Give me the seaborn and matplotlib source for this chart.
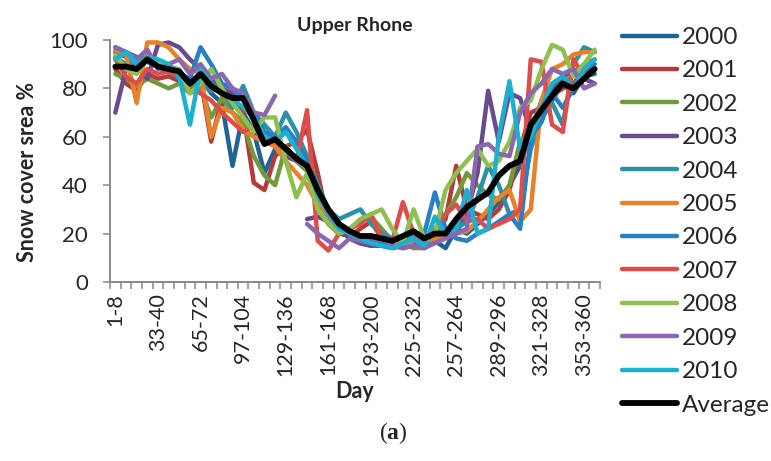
import numpy as np
import pandas as pd
import seaborn as sns
import matplotlib.pyplot as plt
from matplotlib.lines import Line2D
from matplotlib.ticker import FixedLocator

nan = np.nan

# 8-day periods (46 composites)
starts = list(range(1, 362, 8))
periods = [f"{s}-{min(s + 7, 365)}" for s in starts]

tick_positions = list(range(0, 46, 4))
tick_labels = [periods[i] for i in tick_positions]

y2000 = [95, 93, 92, 91, 89, 87, 85, 80, 84, 78, 74, 48, 70, 62, 45, 55, 52, 50, 46, 36, 28, 22, 18, 16, 15, 15, 14, 15, 16, 14, 17, 14, 22, 20, 24, 28, 33, 40, 48, 63, 70, 75, 82, 78, 85, 86]
y2001 = [88, 82, 79, 86, 84, 85, 83, 81, 84, 58, 76, 75, 70, 41, 38, 52, 56, 58, 63, 45, 24, 20, 19, 22, 25, 18, 16, 15, 18, 16, 20, 26, 48, 30, 28, 26, 30, 38, 55, 70, 72, 77, 80, 82, 87, 88]
y2002 = [86, 84, 81, 84, 82, 80, 82, 78, 80, 68, 76, 70, 66, 52, 44, 40, 56, 50, 46, 32, 24, 20, 22, 25, 27, 22, 17, 16, 14, 14, 20, 28, 35, 45, 40, 36, 34, 40, 58, 62, 75, 80, 84, 86, 90, 92]
y2003 = [70, 88, 90, 84, 98, 99, 97, 92, 88, 84, 80, 78, 76, nan, nan, nan, nan, nan, 26, 27, 25, 22, 18, 16, 15, 17, 18, 16, 15, 16, 18, 22, 22, 28, 45, 79, 58, 78, 76, 62, 70, 78, 85, 88, 84, 82]
y2004 = [93, 90, 92, 94, 90, 88, 84, 80, 82, 79, 80, 72, 81, 70, 65, 60, 70, 62, 52, 40, 30, 26, 28, 30, 24, 20, 18, 17, 19, 15, 18, 20, 22, 25, 35, 48, 40, 28, 30, 55, 68, 74, 65, 90, 97, 95]
y2005 = [96, 94, 74, 99, 99, 97, 92, 88, 86, 60, 72, 70, 63, 60, 58, 56, 50, 45, 40, 32, 26, 22, 20, 19, 18, 17, 16, 15, 16, 17, 18, 19, 20, 21, 25, 30, 35, 38, 25, 30, 75, 88, 90, 94, 95, 95]
y2006 = [97, 95, 93, 92, 90, 88, 86, 84, 97, 90, 82, 80, 75, 70, 62, 60, 64, 58, 50, 38, 28, 22, 20, 18, 17, 16, 15, 14, 15, 20, 37, 22, 18, 17, 20, 22, 25, 28, 22, 60, 66, 78, 72, 80, 88, 90]
y2007 = [92, 85, 82, 88, 86, 87, 85, 80, 78, 75, 70, 66, 62, 64, 60, 58, 54, 50, 71, 17, 13, 20, 22, 24, 28, 18, 17, 33, 20, 17, 22, 28, 32, 25, 26, 22, 24, 26, 30, 92, 91, 65, 62, 92, 85, 88]
y2008 = [94, 88, 86, 92, 90, 89, 88, 78, 82, 88, 80, 74, 68, 62, 68, 68, 50, 35, 45, 30, 24, 20, 22, 26, 28, 30, 22, 16, 30, 18, 20, 38, 45, 50, 55, 48, 50, 58, 72, 75, 88, 98, 96, 85, 90, 96]
y2009 = [97, 95, 92, 96, 88, 90, 92, 86, 90, 84, 86, 80, 78, 70, 69, 77, nan, nan, 24, 20, 17, 14, 18, 17, 16, 18, 15, 14, 15, 14, 16, 18, 20, 22, 56, 57, 53, 52, 70, 78, 82, 88, 86, 88, 80, 82]
y2010 = [92, 95, 90, 93, 92, 90, 85, 65, 88, 82, 78, 76, 72, 68, 60, 58, 62, 55, 48, 36, 28, 22, 20, 18, 16, 15, 14, 16, 18, 15, 27, 20, 22, 38, 20, 22, 60, 83, 55, 60, 72, 82, 85, 80, 88, 92]
average = [89, 89, 88, 92, 89, 88, 87, 82, 86, 81, 78, 76, 76, 67, 57, 59, 55, 51, 48, 38, 30, 24, 21, 19, 19, 18, 17, 19, 21, 18, 20, 20, 26, 31, 34, 37, 44, 48, 50, 65, 71, 77, 82, 80, 84, 88]

series_names = ["2000", "2001", "2002", "2003", "2004", "2005", "2006", "2007", "2008", "2009", "2010", "Average"]
series_values = [y2000, y2001, y2002, y2003, y2004, y2005, y2006, y2007, y2008, y2009, y2010, average]
colors = ["#1F6497", "#B43B3B", "#729A3C", "#6A4A8C", "#2A92A8", "#E8822A",
          "#2680C4", "#DF4D4B", "#8DC04E", "#8B67B0", "#1BB0D0", "#000000"]
palette = dict(zip(series_names, colors))

rows = []
for name, vals in zip(series_names, series_values):
    seg = 0
    prev_nan = False
    for i, v in enumerate(vals):
        if np.isnan(v):
            prev_nan = True
            continue
        if prev_nan:
            seg += 1
            prev_nan = False
        rows.append({"series": name, "idx": i, "value": v, "seg": f"{name}_{seg}"})
df = pd.DataFrame(rows)

sns.set_theme(style="white")
plt.rcParams["font.family"] = ["Lato", "DejaVu Sans"]
plt.rcParams["lines.solid_capstyle"] = "round"
plt.rcParams["lines.solid_joinstyle"] = "round"
plt.rcParams["mathtext.fontset"] = "custom"
plt.rcParams["mathtext.rm"] = "Liberation Serif"
plt.rcParams["mathtext.bf"] = "Liberation Serif:bold"

LW = 3.2
LW_AVG = 4.2

fig = plt.figure(figsize=(7.71, 4.61), dpi=100)
ax = fig.add_axes([110 / 771, 1 - 282 / 461, 490 / 771, 242 / 461])

years_df = df[df["series"] != "Average"]
avg_df = df[df["series"] == "Average"]

sns.lineplot(data=years_df, x="idx", y="value", hue="series", units="seg",
             estimator=None, palette=palette, hue_order=series_names[:-1],
             linewidth=LW, legend=False, ax=ax)
sns.lineplot(data=avg_df, x="idx", y="value", color="black", units="seg",
             estimator=None, linewidth=LW_AVG, legend=False, ax=ax)

ax.set_xlim(-0.5, 45.5)
ax.set_ylim(0, 100)
ax.set_yticks([0, 20, 40, 60, 80, 100])
ax.set_xticks(tick_positions)
ax.set_xticklabels(tick_labels, rotation=90)
ax.xaxis.set_minor_locator(FixedLocator(np.arange(-0.5, 46, 1)))
ax.tick_params(axis="x", which="major", length=0, pad=8, labelsize=15.5)
ax.tick_params(axis="x", which="minor", length=5, width=1.1, color="#888888", direction="out", bottom=True)
ax.tick_params(axis="y", which="major", length=5, width=1.1, color="#888888", direction="out", left=True, labelsize=16, pad=11)
ax.set_xlabel("")
ax.set_ylabel("")
for s in ["top", "right"]:
    ax.spines[s].set_visible(False)
for s in ["left", "bottom"]:
    ax.spines[s].set_color("#888888")
    ax.spines[s].set_linewidth(1.4)
ax.grid(False)

fig.text(355 / 771, 1 - 25 / 461, "Upper Rhone", ha="center", va="center", fontsize=14, fontweight="bold")
fig.text(28 / 771, 1 - 172 / 461, "Snow cover srea %", ha="center", va="center", rotation=90, fontsize=15.5, fontweight="bold")
fig.text(355 / 771, 1 - 391 / 461, "Day", ha="center", va="center", fontsize=15.5, fontweight="bold")
fig.text(393 / 771, 1 - 433 / 461, r"$\mathrm{(}\mathbf{a}\mathrm{)}$", ha="center", va="center", fontsize=17)

handles = [Line2D([0], [0], color=c, lw=(LW_AVG if n == "Average" else LW)) for n, c in zip(series_names, colors)]
fig.legend(handles, series_names, loc="upper left", bbox_to_anchor=(622 / 771, 1 - 27 / 461),
           frameon=False, fontsize=17.5, handlelength=2.25, handletextpad=0.22,
           labelspacing=0.51, borderpad=0, borderaxespad=0)

fig.savefig("out.png", dpi=100)
